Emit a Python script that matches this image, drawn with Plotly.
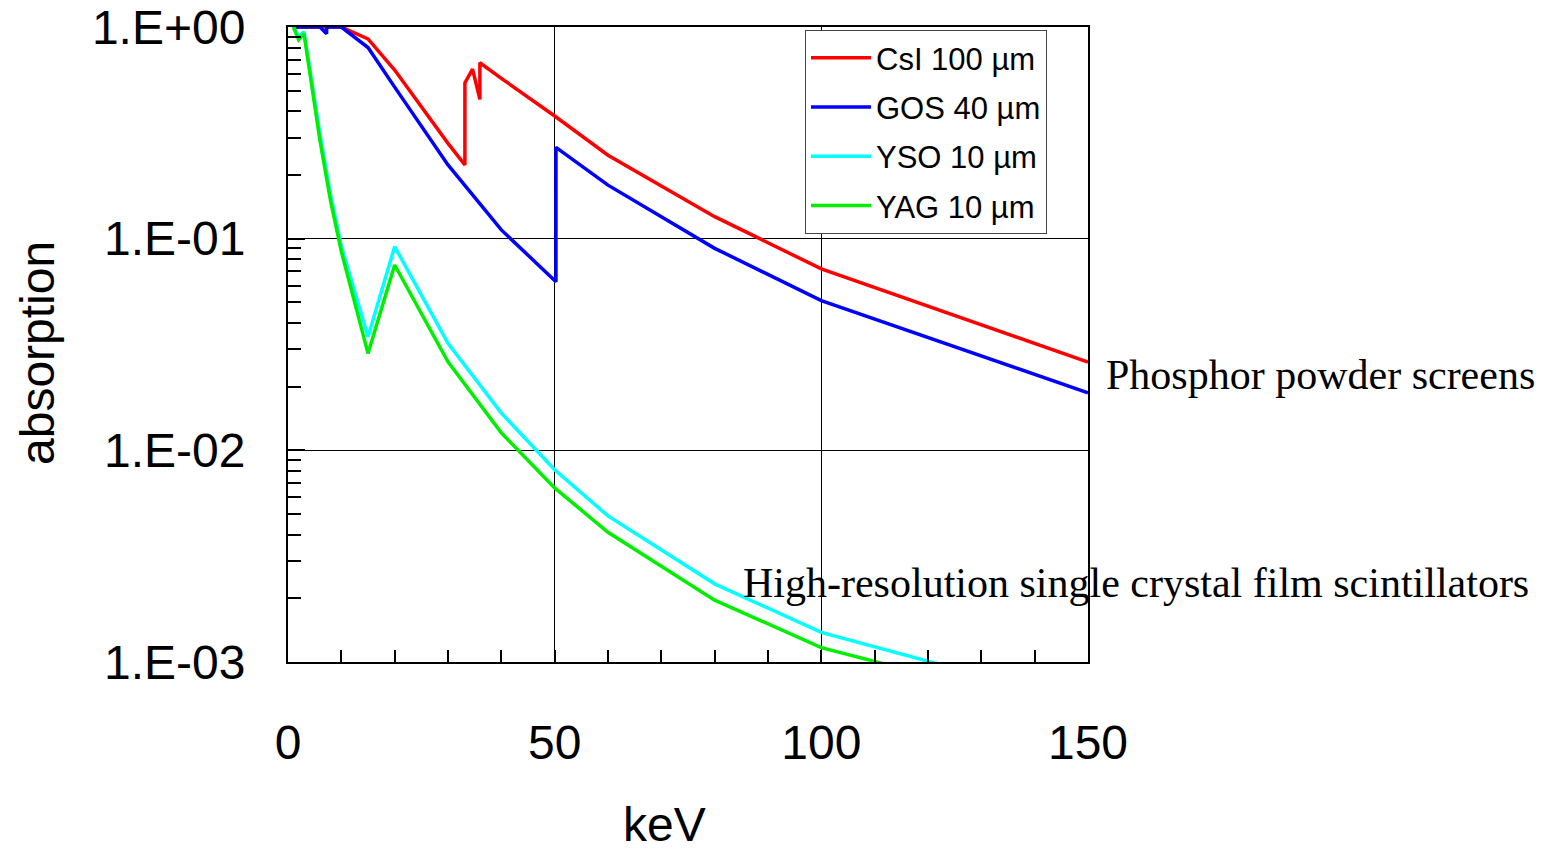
import plotly.graph_objects as go

# ---------------- data ----------------
csi_kev = [1, 10, 15, 20, 30, 33.17, 33.17, 34.6, 35.98, 35.98, 40, 50, 60, 80, 100, 150]
csi_abs = [1.0, 1.0, 0.878, 0.626, 0.282, 0.223, 0.544, 0.633, 0.455, 0.678, 0.572, 0.38, 0.248, 0.127, 0.072, 0.0261]

gos_kev = [1, 6, 7.24, 7.25, 10, 15, 20, 30, 40, 50.24, 50.24, 60, 80, 100, 150]
gos_abs = [1.0, 1.0, 0.93, 1.0, 1.0, 0.80, 0.52, 0.223, 0.110, 0.0626, 0.270, 0.179, 0.090, 0.051, 0.0187]

yso_kev = [1, 2, 3, 4, 5, 6, 8, 10, 15, 20, 30, 40, 50, 60, 80, 100, 150]
yso_abs = [1.0, 0.90, 0.95, 0.66, 0.45, 0.31, 0.16, 0.092, 0.0344, 0.0917, 0.032, 0.0150, 0.0081, 0.0049, 0.00234, 0.00138, 0.00063]

yag_kev = [1, 2, 3, 4, 5, 6, 8, 10, 15, 20, 30, 40, 50, 60, 80, 100, 150]
yag_abs = [1.0, 0.87, 0.93, 0.62, 0.42, 0.29, 0.15, 0.087, 0.0287, 0.0751, 0.0262, 0.0121, 0.00664, 0.0041, 0.00196, 0.00117, 0.00055]

series_names = ["CsI 100 µm", "GOS 40 µm", "YSO 10 µm", "YAG 10 µm"]
series_colors = ["#ff0000", "#0000ff", "#00ffff", "#00ee00"]

x_tickvals = [0, 50, 100, 150]
y_tickvals = [1e-3, 1e-2, 1e-1, 1.0]
y_ticktext = ["1.E-03", "1.E-02", "1.E-01", "1.E+00"]
y_minor_vals = [m * 10 ** e for e in (-3, -2, -1) for m in range(2, 10)]

SANS = "Liberation Sans, Arial, sans-serif"
SERIF = "Liberation Serif, Times New Roman, serif"

fig = go.Figure()
for xs, ys, name, col in zip(
    [csi_kev, gos_kev, yso_kev, yag_kev],
    [csi_abs, gos_abs, yso_abs, yag_abs],
    series_names, series_colors,
):
    fig.add_trace(go.Scatter(x=xs, y=ys, mode="lines", name=name,
                             legendgroup=name,
                             line=dict(color=col, width=3.5)))

fig.update_layout(
    width=1559, height=852,
    margin=dict(l=288, r=471, t=27, b=190, pad=0),
    paper_bgcolor="white", plot_bgcolor="white",
    font=dict(family=SANS, color="black"),
    showlegend=True,
    legend=dict(
        x=(805 - 288) / 800, y=(662 - 30) / 635, xanchor="left", yanchor="top",
        bgcolor="white", bordercolor="#444", borderwidth=1,
        font=dict(family=SANS, size=31, color="black"),
        tracegroupgap=6, itemwidth=60,
    ),
)

fig.update_xaxes(
    range=[0, 150], tickmode="array", tickvals=x_tickvals,
    showgrid=True, gridcolor="black", gridwidth=1,
    ticks="inside", ticklen=12, tickwidth=1.5, tickcolor="black",
    minor=dict(dtick=10, ticks="inside", ticklen=12, tickwidth=1.5,
               tickcolor="black", showgrid=False),
    showline=True, linecolor="black", linewidth=2, mirror=True,
    tickfont=dict(family=SANS, size=48, color="black"),
    ticklabelstandoff=37, zeroline=False, automargin=False,
)

fig.update_yaxes(
    type="log", range=[-3, 0], tickmode="array",
    tickvals=y_tickvals, ticktext=y_ticktext,
    showgrid=True, gridcolor="black", gridwidth=1,
    ticks="inside", ticklen=17, tickwidth=2, tickcolor="black",
    minor=dict(tickmode="array", tickvals=y_minor_vals, ticks="inside",
               ticklen=13, tickwidth=1.5, tickcolor="black", showgrid=False),
    showline=True, linecolor="black", linewidth=2, mirror=True,
    tickfont=dict(family=SANS, size=48, color="black"),
    ticklabelstandoff=31, zeroline=False, automargin=False,
)

# axis titles
fig.add_annotation(text="absorption", xref="paper", yref="paper",
                   x=(37 - 288) / 800, y=(662 - 353) / 635,
                   xanchor="center", yanchor="middle", textangle=-90,
                   showarrow=False, font=dict(family=SANS, size=48, color="black"))
fig.add_annotation(text="keV", xref="paper", yref="paper",
                   x=(664 - 288) / 800, y=(662 - 825) / 635,
                   xanchor="center", yanchor="middle",
                   showarrow=False, font=dict(family=SANS, size=48, color="black"))

# group labels
fig.add_annotation(text="Phosphor powder screens", xref="paper", yref="paper",
                   x=(1104 - 288) / 800, y=(662 - 375) / 635,
                   xanchor="left", yanchor="middle", showarrow=False,
                   font=dict(family=SERIF, size=42, color="black"))
fig.add_annotation(text="High-resolution single crystal film scintillators",
                   xref="paper", yref="paper",
                   x=(741 - 288) / 800, y=(662 - 583) / 635,
                   xanchor="left", yanchor="middle", showarrow=False,
                   font=dict(family=SERIF, size=42, color="black"))

fig.write_html("out.html")
